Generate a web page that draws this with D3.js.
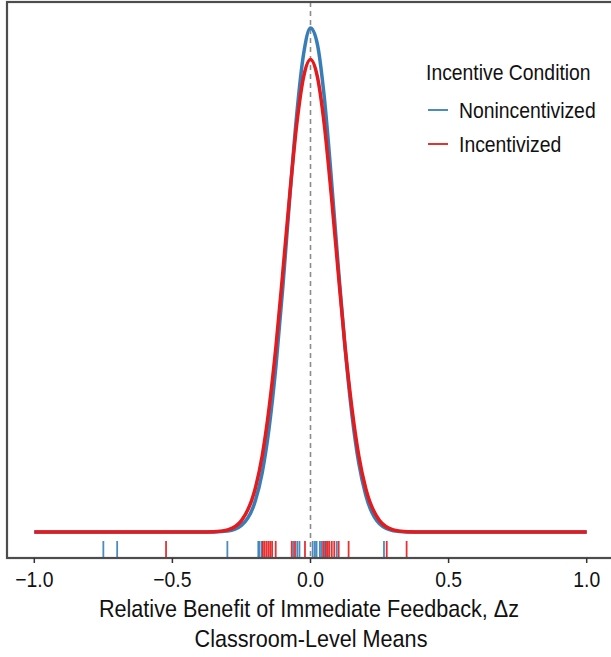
<!DOCTYPE html>
<html>
<head>
<meta charset="utf-8">
<script src="https://cdn.jsdelivr.net/npm/d3@7"></script>
<style>
  body { margin: 0; background: #fff; }
  text { font-family: "Liberation Sans", Arial, sans-serif; fill: #111; }
</style>
</head>
<body>
<div id="chart"></div>
<script>
// density curves (x in delta z, y in density units)
const gridX = [-1.0, -0.5, -0.4, -0.35, -0.3, -0.25, -0.2, -0.175, -0.15, -0.125, -0.1, -0.075, -0.05, -0.025,
  0, 0.025, 0.05, 0.075, 0.1, 0.125, 0.15, 0.175, 0.2, 0.25, 0.3, 0.35, 0.4, 0.5, 1.0];
const nonincentivized = [0, 0, 0, 0.001, 0.009, 0.061, 0.285, 0.545, 0.955, 1.53, 2.26, 3.08, 3.84, 4.40,
  4.64, 4.49, 4.00, 3.27, 2.46, 1.70, 1.08, 0.63, 0.34, 0.075, 0.012, 0.001, 0, 0, 0];
const incentivized = [0, 0, 0, 0.003, 0.020, 0.105, 0.40, 0.70, 1.14, 1.71, 2.40, 3.11, 3.75, 4.19,
  4.35, 4.19, 3.75, 3.11, 2.40, 1.71, 1.14, 0.70, 0.40, 0.105, 0.020, 0.003, 0, 0, 0];

// classroom-level means (rug)
const rugNonincentivized = [-0.750, -0.700, -0.301, -0.189, -0.185, -0.177, -0.062, -0.048, -0.040,
  0.008, 0.016, 0.022, 0.034, 0.040, 0.052, 0.095, 0.266];
const rugIncentivized = [-0.523, -0.173, -0.167, -0.160, -0.153, -0.146, -0.139, -0.126, -0.068, -0.056,
  -0.020, 0.046, 0.056, 0.062, 0.068, 0.077, 0.086, 0.102, 0.138, 0.276, 0.348];

const xTicks = [-1.0, -0.5, 0.0, 0.5, 1.0];
const groups = ["Nonincentivized", "Incentivized"];
const colors = ["#377EB8", "#E41A1C"];

const width = 611, height = 657;
const panel = { left: 7, top: 2, bottom: 558, right: 640 };

const svg = d3.select("#chart").append("svg")
  .attr("width", width)
  .attr("height", height);

// condensed-looking text: squeeze a regular face horizontally
function label(parent, tx, ty, str, size, sx, anchor = "start", fill = "#111") {
  parent.append("g")
    .attr("transform", `translate(${tx},${ty}) scale(${sx},1)`)
    .append("text")
    .attr("text-anchor", anchor)
    .attr("font-size", size)
    .attr("fill", fill)
    .text(str);
}

const x = d3.scaleLinear().domain([-1, 1]).range([34.3, 586.7]);
const y = d3.scaleLinear().domain([0, 4.64]).range([532, 28]);

// dashed reference line at zero
svg.append("line")
  .attr("x1", x(0)).attr("x2", x(0))
  .attr("y1", panel.top).attr("y2", panel.bottom)
  .attr("stroke", "#8c8c8c")
  .attr("stroke-width", 1.6)
  .attr("stroke-dasharray", "5,4");

// curves
const line = d3.line()
  .x(d => x(d[0]))
  .y(d => y(d[1]))
  .curve(d3.curveMonotoneX);

[nonincentivized, incentivized].forEach((vals, i) => {
  svg.append("path")
    .datum(gridX.map((g, j) => [g, vals[j]]))
    .attr("d", line)
    .attr("fill", "none")
    .attr("stroke", colors[i])
    .attr("stroke-width", 3.5)
    .attr("stroke-linejoin", "round");
});

// rug
const rugLen = 17;
[rugNonincentivized, rugIncentivized].forEach((vals, i) => {
  svg.append("g").selectAll("line")
    .data(vals)
    .join("line")
    .attr("x1", d => x(d)).attr("x2", d => x(d))
    .attr("y1", panel.bottom - rugLen).attr("y2", panel.bottom)
    .attr("stroke", colors[i])
    .attr("stroke-opacity", 0.9)
    .attr("stroke-width", 1.8);
});

// panel border (top, left, bottom visible)
svg.append("rect")
  .attr("x", panel.left).attr("y", panel.top)
  .attr("width", panel.right - panel.left)
  .attr("height", panel.bottom - panel.top)
  .attr("fill", "none")
  .attr("stroke", "#4d4d4d")
  .attr("stroke-width", 2.2);

// x axis
const xAxis = svg.append("g").attr("transform", `translate(0,${panel.bottom})`);
xAxis.selectAll("line")
  .data(xTicks)
  .join("line")
  .attr("x1", d => x(d)).attr("x2", d => x(d))
  .attr("y1", 0).attr("y2", 5)
  .attr("stroke", "#333")
  .attr("stroke-width", 1.5);
xTicks.forEach(t => {
  label(xAxis, x(t), 29, d3.format(".1f")(t).replace("-", "\u2212"), 21.5, 0.9, "middle", "#333");
});

label(svg, 309, 617, "Relative Benefit of Immediate Feedback, \u0394z", 24, 0.9, "middle");
label(svg, 311, 647, "Classroom-Level Means", 24, 0.9, "middle");

// legend
const legend = svg.append("g").attr("transform", "translate(426,0)");
label(legend, 0, 80, "Incentive Condition", 22, 0.88);
groups.forEach((g, i) => {
  const yy = 110 + i * 34;
  legend.append("line")
    .attr("x1", 2).attr("x2", 22)
    .attr("y1", yy).attr("y2", yy)
    .attr("stroke", colors[i])
    .attr("stroke-width", 1.8);
  label(legend, 33, yy + 8, g, 22, 0.88);
});
</script>
</body>
</html>
